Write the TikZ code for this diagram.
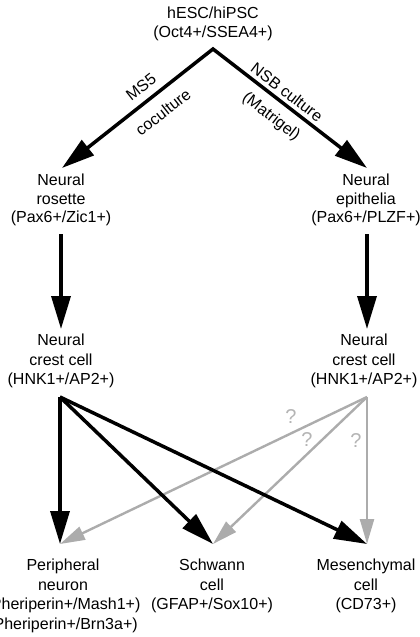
\documentclass[tikz,border=0pt]{standalone}
\usepackage{fontspec}
\setmainfont{Liberation Sans}
\usetikzlibrary{arrows.meta}
\definecolor{arrgrey}{RGB}{172,172,172}
\definecolor{qgrey}{RGB}{180,180,180}
\begin{document}
\begin{tikzpicture}[x=1pt,y=-1pt,
  lbl/.style={font=\fontsize{16}{18.5}\selectfont, align=center, inner sep=0pt},
  lbll/.style={font=\fontsize{16}{19.5}\selectfont, align=center, inner sep=0pt},
  edgelbl/.style={font=\fontsize{16}{18.5}\selectfont, inner sep=0pt},
  blk/.style={line width=3.5pt, line join=miter, -{Triangle[length=33pt,width=19pt]}},
  blkboth/.style={line width=3.5pt, line join=miter, {Triangle[length=33pt,width=19pt]}-{Triangle[length=33pt,width=19pt]}},
  gry/.style={draw=arrgrey, line width=2.4pt, -{Triangle[length=25pt,width=14pt]}},
  qm/.style={font=\fontsize{20}{22}\selectfont, text=qgrey, inner sep=0pt},
]
\useasboundingbox (0,0) rectangle (420,637);

% text nodes
\node[lbl] (top) at (213,24) {hESC/hiPSC\\(Oct4+/SSEA4+)};
\node[lbl] (ros) at (61,200) {Neural\\rosette\\(Pax6+/Zic1+)};
\node[lbl] (epi) at (366,200) {Neural\\epithelia\\(Pax6+/PLZF+)};
\node[lbll] (ncl) at (61,361) {Neural\\crest cell\\(HNK1+/AP2+)};
\node[lbll] (ncr) at (364,361) {Neural\\crest cell\\(HNK1+/AP2+)};
\node[lbll] (pn) at (63,596) {Peripheral\\neuron\\(Pheriperin+/Mash1+)\\(Pheriperin+/Brn3a+)};
\node[lbll] (sc) at (212,586) {Schwann\\cell\\(GFAP+/Sox10+)};
\node[lbll] (mc) at (366,586) {Mesenchymal\\cell\\(CD73+)};

% edge labels
\node[edgelbl, rotate=38] (ms5) at (141,87) {MS5};
\node[edgelbl, rotate=38] (cocult) at (163,112) {coculture};
\node[edgelbl, rotate=-37.5] (nsb) at (287,92) {NSB culture};
\node[edgelbl, rotate=-37.5] (matri) at (271,117) {(Matrigel)};

% connector end points
\coordinate (apex) at (213,49);
\coordinate (rostip) at (62,168);
\coordinate (epitip) at (367,168);
\coordinate (rosbot) at (61,234);
\coordinate (epibot) at (367,234);
\coordinate (ncltip) at (61,329);
\coordinate (ncrtip) at (367,329);
\coordinate (nclsrc) at (60,397);
\coordinate (ncrsrc) at (367,397);
\coordinate (pntip) at (60,544);
\coordinate (sctip) at (213,544);
\coordinate (mctip) at (367,544);

% top split
\draw[blkboth] (rostip) -- (apex) -- (epitip);

% vertical arrows
\draw[blk] (rosbot) -- (ncltip);
\draw[blk] (epibot) -- (ncrtip);

% grey arrows
\draw[gry] (ncrsrc) -- (pntip);
\draw[gry] (ncrsrc) -- (sctip);
\draw[gry] (ncrsrc) -- (mctip);

% black arrows
\draw[blk] (nclsrc) -- (pntip);
\draw[blk] (nclsrc) -- (sctip);
\draw[blk] (nclsrc) -- (mctip);

% question marks
\node[qm] (q1) at (291,417) {?};
\node[qm] (q2) at (307,440) {?};
\node[qm] (q3) at (356,441) {?};
\end{tikzpicture}
\end{document}
